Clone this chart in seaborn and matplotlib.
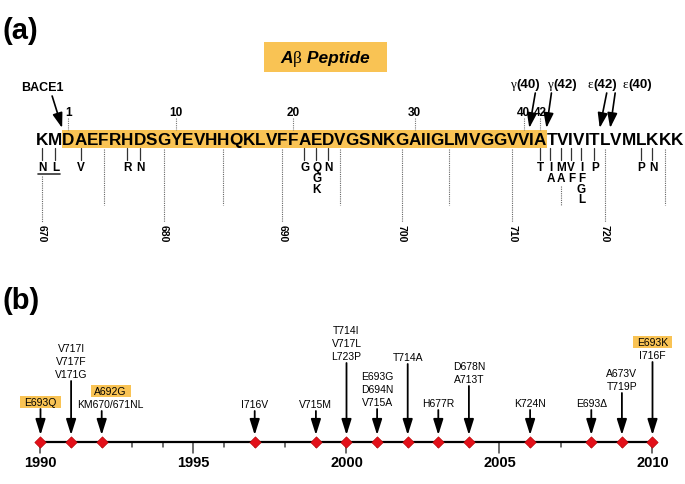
import numpy as np
import pandas as pd
import seaborn as sns
import matplotlib
matplotlib.use("Agg")
import matplotlib.pyplot as plt
from matplotlib import font_manager, ft2font
from matplotlib.patches import Rectangle

sns.set_theme(style="white")
plt.rcParams["font.family"] = ["Liberation Sans", "DejaVu Sans"]
plt.rcParams["text.color"] = "black"

# ---------------- data ----------------
sequence = list("KMDAEFRHDSGYEVHHQKLVFFAEDVGSNKGAIIGLMVGGVVIATVIVITLVMLKKK")
first_residue = 670          # APP770 number of the first letter
abeta_first = 672            # A-beta residue 1
abeta_last = 713             # A-beta residue 42
abeta_ticks = [1, 10, 20, 30, 40, 42]
app_ticks = [670, 675, 680, 685, 690, 695, 700, 705, 710, 715, 720, 725]
app_tick_labels = [670, 680, 690, 700, 710, 720]
mutation_residues = [670, 671, 673, 677, 678, 692, 693, 694, 713, 714, 715, 716, 717, 719, 723, 724]
mutation_subs = ["N", "L", "V", "R", "N", "G", "QGK", "N", "T", "IA", "MA", "VF", "IFGL", "P", "P", "N"]
swedish_pair = [670, 671]
cleavage_names = ["BACE1", "γ(40)", "γ(42)", "ε(42)", "ε(40)"]
cleavage_after = [671, 711, 713, 719, 720]

event_years = [1990, 1991, 1992, 1997, 1999, 2000, 2001, 2002, 2003, 2004, 2006, 2008, 2009, 2010]
event_labels = [["E693Q"], ["V717I", "V717F", "V171G"], ["A692G", "KM670/671NL"], ["I716V"],
                ["V715M"], ["T714I", "V717L", "L723P"], ["E693G", "D694N", "V715A"], ["T714A"],
                ["H677R"], ["D678N", "A713T"], ["K724N"], ["E693Δ"], ["A673V", "T719P"],
                ["E693K", "I716F"]]
highlighted = ["E693Q", "A692G", "E693K"]
year_ticks = [1990, 1995, 2000, 2005, 2010]
year_min, year_max = 1990, 2010

# ---------------- layout / style ----------------
W, H = 685, 484
PX = 100 / 72.0
YELLOW = "#F9C354"
RED = "#E3101A"
# bottom-line height of each timeline label group (px from top) and x shift
label_bottom = [402, 374, 404, 404, 404, 356, 402, 357, 403, 379, 403, 403, 386, 355]
label_dx = [0, 0, 9, 0, 0, 0, 0, 0, 0, 0, 0, 0, 0, 0]
cleave_label_x = [42, 525, 562, 602, 637]
cleave_label_y = [87, 83, 83, 83, 83]
cleave_start_dx = [-10, 6, 5, 7, 5]
# crowded mutation cluster is spread evenly for legibility
spread_first, spread_last, spread_step = 713, 717, 10.2

try:
    NOHINT = ft2font.LoadFlags.NO_HINTING
except AttributeError:
    NOHINT = ft2font.LOAD_NO_HINTING


def fprop(family="Liberation Sans", weight="bold", style="normal", size=10):
    return font_manager.FontProperties(family=family, weight=weight, style=style, size=size)


def advances(s, fp):
    font = font_manager.get_font(font_manager.findfont(fp))
    font.set_size(fp.get_size_in_points(), 100)
    out = []
    for ch in s:
        g = font.load_char(ord(ch), flags=NOHINT)
        out.append(g.linearHoriAdvance / 65536.0)
    return np.array(out)


def cap_base(yc, size):
    return yc + 0.716 * size * PX / 2.0


def draw_segments(ax, xc, yc, segs, size):
    fps = []
    for t, fam, wt, st in segs:
        fps.append(fprop(fam, wt, st, size))
    widths = [advances(t, fp).sum() for (t, _, _, _), fp in zip(segs, fps)]
    x = xc - sum(widths) / 2.0
    for (t, _, _, _), fp, w in zip(segs, fps, widths):
        ax.text(x, cap_base(yc, size), t, ha="left", va="baseline", fontproperties=fp, color="black")
        x += w


fig = plt.figure(figsize=(6.85, 4.84), dpi=100)
fig.patch.set_facecolor("white")
ax = fig.add_axes([0, 0, 1, 1])
ax.set_xlim(0, W)
ax.set_ylim(H, 0)
ax.axis("off")

# panel letters
ax.text(3, cap_base(29, 21), "(a)", fontproperties=fprop(size=21), va="baseline", ha="left")
ax.text(3, cap_base(299, 21), "(b)", fontproperties=fprop(size=21), va="baseline", ha="left")

# A-beta peptide title box
ax.add_patch(Rectangle((264, 42), 123, 30, facecolor=YELLOW, edgecolor="none"))
draw_segments(ax, 325, 57, [("A", "Liberation Sans", "bold", "italic"),
                             ("β", "Liberation Serif", "normal", "normal"),
                             (" Peptide", "Liberation Sans", "bold", "italic")], 12.5)

# ---------------- sequence ----------------
seq_str = "".join(sequence)
fp10 = fprop(size=10)
adv10 = advances(seq_str, fp10)
seq_size = 10 * 647.0 / adv10.sum()
seq_fp = fprop(size=seq_size)
adv = advances(seq_str, seq_fp)
x0 = 35.5
cum = np.concatenate([[0], np.cumsum(adv)])
centers = x0 + cum[:-1] + adv / 2.0
seq_y = 139


def rx(res):
    return centers[res - first_residue]


def mx(res):
    if spread_first <= res <= spread_last:
        return rx(spread_first) + (res - spread_first) * spread_step
    return rx(res)


def boundary(res):
    return x0 + cum[res - first_residue + 1]


hl_left = x0 + cum[abeta_first - first_residue] - 0.5
hl_right = x0 + cum[abeta_last - first_residue + 1] + 0.5
ax.add_patch(Rectangle((hl_left, 130), hl_right - hl_left, 17.5, facecolor=YELLOW, edgecolor="none", zorder=1))
for c, x in zip(sequence, centers):
    ax.text(x, cap_base(seq_y, seq_size), c, ha="center", va="baseline", fontproperties=seq_fp, zorder=3)

# A-beta numbering above
num_fp = fprop(size=8.5)
for n in abeta_ticks:
    x = rx(abeta_first + n - 1)
    ax.text(x, cap_base(112, 8.5), str(n), ha="center", va="baseline", fontproperties=num_fp)
    ax.plot([x, x], [118, 129.5], ls=(0, (1, 1)), lw=0.8, color="#777777")

# mutations below
mut_size = 8.5
mut_fp = fprop(size=mut_size)
row0, row_step = 167, 10.7
mut_depth = {}
for res, subs in zip(mutation_residues, mutation_subs):
    x = mx(res)
    ax.plot([x, x], [148, 160], color="#333333", lw=0.9)
    for k, s in enumerate(subs):
        ax.text(x + 0.5, cap_base(row0 + k * row_step, mut_size), s, ha="center", va="baseline", fontproperties=mut_fp)
    mut_depth[res] = row0 + (len(subs) - 1) * row_step
ax.plot([rx(swedish_pair[0]) - 4, rx(swedish_pair[1]) + 5], [173.5, 173.5], color="#333333", lw=1.2)

# APP numbering dotted guides
lab_fp = fprop(size=7.5)
for t in app_ticks:
    x = mx(t)
    y_start = mut_depth[t] + 8 if t in mut_depth else 149
    if t in swedish_pair:
        y_start = 176
    y_end = 222 if t in app_tick_labels else 205
    ax.plot([x, x], [y_start, y_end], ls=(0, (1, 1)), lw=0.8, color="#666666")
    if t in app_tick_labels:
        ax.text(x, 225, str(t), rotation=270, ha="center", va="top", fontproperties=lab_fp)

# cleavage sites
for name, after, lx, ly, sdx in zip(cleavage_names, cleavage_after, cleave_label_x, cleave_label_y, cleave_start_dx):
    tip = boundary(after)
    if name == "BACE1":
        ax.text(lx, cap_base(ly, 9), name, ha="center", va="baseline", fontproperties=fprop(size=9))
        start = (tip + sdx, 96)
    else:
        draw_segments(ax, lx, ly, [(name[0], "Liberation Serif", "normal", "normal"),
                                   (name[1:], "Liberation Sans", "bold", "normal")], 9.5)
        start = (tip + sdx, 93)
    ax.annotate("", xy=(tip, 128), xytext=start,
                arrowprops=dict(arrowstyle="-|>,head_length=0.9,head_width=0.3", lw=1.2,
                                color="black", shrinkA=0, shrinkB=0, mutation_scale=10))

# ---------------- panel (b): timeline ----------------
x1990, px_per_year = 40.5, 30.6
ax2 = fig.add_axes([0, 0, 1, 1])
ax2.patch.set_alpha(0)
line_y = 442

ax2.plot([year_min, year_max], [line_y, line_y], color="black", lw=1.6, zorder=2)
for yr in range(year_min, year_max + 1):
    ax2.plot([yr, yr], [line_y, line_y + (11 if yr in year_ticks else 5)], color="#444444", lw=1.1, zorder=1)
for yr in year_ticks:
    ax2.text(yr, cap_base(462, 10.5), str(yr), ha="center", va="baseline", fontproperties=fprop(size=10.5))

events = pd.DataFrame({"year": event_years, "y": [line_y] * len(event_years)})
sns.scatterplot(data=events, x="year", y="y", marker="D", s=34, color=RED,
                edgecolor="#B00000", linewidth=0.4, zorder=5, ax=ax2, legend=False)
ax2.set_xlim(year_min - x1990 / px_per_year, year_min + (W - x1990) / px_per_year)
ax2.set_ylim(H, 0)
ax2.axis("off")

ev_fp = fprop(weight="normal", size=7.5)
line_step = 12.8
for yr, labs, yb, dx in zip(event_years, event_labels, label_bottom, label_dx):
    ax2.annotate("", xy=(yr, 435), xytext=(yr, yb + 7),
                 arrowprops=dict(arrowstyle="-|>,head_length=0.95,head_width=0.3", lw=1.3,
                                 color="black", shrinkA=0, shrinkB=0, mutation_scale=10), zorder=4)
    n = len(labs)
    xt = yr + dx / px_per_year
    for k, s in enumerate(labs):
        yc = yb - (n - 1 - k) * line_step
        if s in highlighted:
            w = advances(s, ev_fp).sum() + 8
            ax2.add_patch(Rectangle((xt - w / 2 / px_per_year, yc - 5.8), w / px_per_year, 11.6,
                                    facecolor=YELLOW, edgecolor="none", zorder=2))
        ax2.text(xt, cap_base(yc, 7.5), s, ha="center", va="baseline", fontproperties=ev_fp, zorder=3)

fig.savefig("out.png", dpi=100, facecolor="white")
